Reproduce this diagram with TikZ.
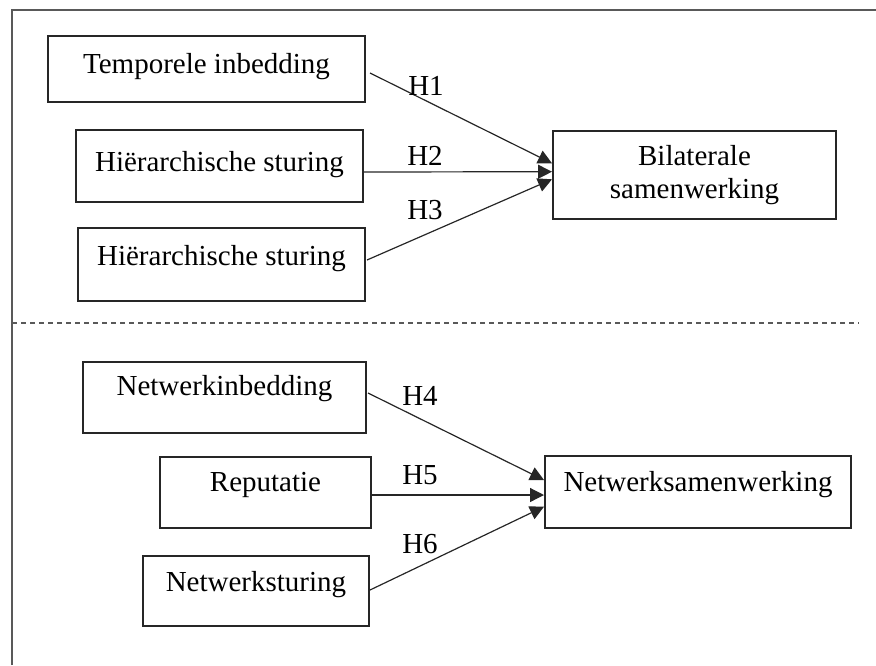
\documentclass[tikz,border=0pt]{standalone}
\usepackage{fontspec}
\setmainfont{Liberation Serif}
\usetikzlibrary{arrows.meta,calc}

\begin{document}
\begin{tikzpicture}[x=0.5pt,y=-0.5pt,
  box/.style={draw=black!85, line width=0.9pt, inner sep=0pt, outer sep=0pt,
    font=\fontsize{14.5}{16.7}\selectfont, text height=10pt},
  lbl/.style={inner sep=0pt, font=\fontsize{14.5}{16.7}\selectfont},
  link/.style={draw=black!85, line width=0.6pt, -{Triangle[length=7pt,width=7pt]}},
  frame/.style={draw=black!65, line width=1pt},
]
\useasboundingbox (0,0) rectangle (876,665);

% outer frame and separator
\draw[frame] (12,665) -- (12,10) -- (876,10);
\draw[frame, line width=0.8pt, dash pattern=on 2.5pt off 2pt] (12,323) -- (859,323);

% upper model: bilateral cooperation
\node[box, minimum width=158.5pt, minimum height=33pt, text depth=5.7pt] (t1) at (206.5,69) {Temporele inbedding};
\node[box, minimum width=143.5pt, minimum height=36pt, text depth=4.3pt] (t2) at (219.5,166) {Hiërarchische sturing};
\node[box, minimum width=143.5pt, minimum height=36.5pt, text depth=9.5pt] (t3) at (221.5,264.5) {Hiërarchische sturing};
\node[box, text height=, minimum width=141.5pt, minimum height=44pt, align=center] (bil) at (694.5,175) {Bilaterale\\samenwerking};

\draw[link] ($(t1.east)+(5,4)$) -- ($(bil.west)+(-1,-11.7)$);
\draw[link] ($(t2.east)+(1,6)$) -- ($(bil.west)+(-1,-3.3)$);
\draw[link] ($(t3.east)+(2,-4.5)$) -- ($(bil.west)+(-1,4.3)$);

\node[lbl] (h1) at (426,86) {H1};
\node[lbl] (h2) at (425,156) {H2};
\node[lbl] (h3) at (425,210) {H3};

% lower model: network cooperation
\node[box, minimum width=141.5pt, minimum height=35.5pt, text depth=12.5pt] (n1) at (224.5,397.5) {Netwerkinbedding};
\node[box, minimum width=105.5pt, minimum height=35.5pt, text depth=10.8pt] (n2) at (265.5,492.5) {Reputatie};
\node[box, minimum width=113pt, minimum height=35pt, text depth=9.3pt] (n3) at (256,591) {Netwerksturing};
\node[box, minimum width=153pt, minimum height=36pt, text depth=10.3pt] (nsw) at (698,492) {Netwerksamenwerking};

\draw[link] ($(n1.east)+(2,-4.5)$) -- ($(nsw.west)+(-1,-12)$);
\draw[link] ($(n2.east)+(0,2.5)$) -- ($(nsw.west)+(-1,3)$);
\draw[link] ($(n3.east)+(1,-1)$) -- ($(nsw.west)+(-1,14.7)$);

\node[lbl] (h4) at (420,396) {H4};
\node[lbl] (h5) at (420,475.5) {H5};
\node[lbl] (h6) at (420,544) {H6};
\end{tikzpicture}
\end{document}
